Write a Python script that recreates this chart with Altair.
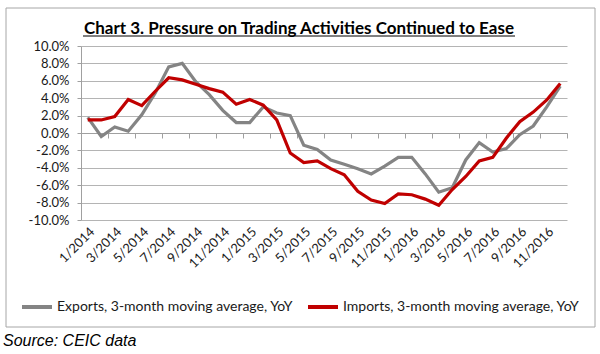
import altair as alt
import pandas as pd

months = ["1/2014", "2/2014", "3/2014", "4/2014", "5/2014", "6/2014", "7/2014", "8/2014",
          "9/2014", "10/2014", "11/2014", "12/2014", "1/2015", "2/2015", "3/2015", "4/2015",
          "5/2015", "6/2015", "7/2015", "8/2015", "9/2015", "10/2015", "11/2015", "12/2015",
          "1/2016", "2/2016", "3/2016", "4/2016", "5/2016", "6/2016", "7/2016", "8/2016",
          "9/2016", "10/2016", "11/2016", "12/2016"]

exports = [1.8, -0.4, 0.7, 0.2, 2.1, 4.6, 7.6, 8.0, 5.9, 4.4, 2.6, 1.2,
           1.2, 3.0, 2.3, 2.0, -1.4, -1.9, -3.1, -3.6, -4.1, -4.7, -3.8, -2.8,
           -2.8, -4.7, -6.8, -6.3, -3.1, -1.1, -2.2, -1.8, -0.2, 0.8, 3.0, 5.4]

imports = [1.5, 1.5, 1.9, 3.85, 3.15, 4.8, 6.35, 6.1, 5.6, 5.1, 4.7, 3.3,
           3.85, 3.2, 1.5, -2.3, -3.4, -3.2, -4.1, -4.8, -6.7, -7.7, -8.1, -7.0,
           -7.1, -7.6, -8.3, -6.5, -5.0, -3.2, -2.8, -0.6, 1.3, 2.4, 3.8, 5.7]

series_names = ["Exports, 3-month moving average, YoY",
                "Imports, 3-month moving average, YoY"]
series_colors = ["#848484", "#C00000"]

title_text = "Chart 3. Pressure on Trading Activities Continued to Ease"
source_text = "Source: CEIC data"

rows = []
for i, m in enumerate(months):
    rows.append({"idx": i, "month": m, "series": series_names[0], "value": exports[i]})
    rows.append({"idx": i, "month": m, "series": series_names[1], "value": imports[i]})
df = pd.DataFrame(rows)

n = len(months)
FONT = "Lato"
label_array = "[" + ",".join("'" + m + "'" for m in months) + "]"

xscale = alt.Scale(domain=[-0.5, n - 0.5], nice=False, zero=False)
yscale = alt.Scale(domain=[-10, 10], nice=False)

yaxis = alt.Axis(
    orient="left",
    values=list(range(-10, 11, 2)),
    labelExpr="replace(format(datum.value, '.1f'), '\u2212', '-') + '%'",
    title=None, grid=True, gridColor="#B4B4B4", gridWidth=1,
    domain=True, domainColor="#A0A0A0", ticks=True, tickColor="#A0A0A0", tickSize=4,
    labelFont=FONT, labelFontSize=13, labelColor="#1a1a1a", labelPadding=8,
)

label_axis = alt.Axis(
    orient="bottom",
    values=list(range(0, n, 2)),
    labelExpr=label_array + "[datum.value]",
    labelAngle=-45, labelAlign="right", labelBaseline="top",
    labelFont=FONT, labelFontSize=13, labelColor="#1a1a1a", labelPadding=5,
    labelOverlap=False, labelFlush=False,
    ticks=False, domain=False, grid=False, title=None,
)

tick_axis = alt.Axis(
    orient="bottom",
    values=[k + 1.5 for k in range(0, n, 2)],
    labels=False, ticks=True, tickSize=5, tickColor="#A0A0A0",
    domain=True, domainColor="#A0A0A0", grid=False, title=None,
    offset=-87,
)

lines = alt.Chart(df).mark_line(strokeWidth=3.2).encode(
    x=alt.X("idx:Q", scale=xscale, axis=label_axis),
    y=alt.Y("value:Q", scale=yscale, axis=yaxis),
    color=alt.Color(
        "series:N",
        scale=alt.Scale(domain=series_names, range=series_colors),
        legend=alt.Legend(
            orient="none", legendX=-61, legendY=244, direction="horizontal",
            title=None, symbolType="stroke", symbolSize=900, symbolStrokeWidth=4,
            labelFont=FONT, labelFontSize=14, labelColor="#1a1a1a", labelLimit=0,
            labelOffset=3, columnPadding=6,
        ),
    ),
    detail="series:N",
)

ticks_layer = alt.Chart(df).mark_line(opacity=0).encode(
    x=alt.X("idx:Q", scale=xscale, axis=tick_axis),
    y=alt.Y("value:Q", scale=yscale, axis=yaxis),
    detail="series:N",
)

one = pd.DataFrame({"t": [title_text], "s": [source_text]})

border = alt.Chart(one).mark_rect(fill=None, stroke="#A6A6A6", strokeWidth=1).encode(
    x=alt.value(-75), x2=alt.value(514), y=alt.value(-38), y2=alt.value(281)
)

title_mark = alt.Chart(one).mark_text(
    font=FONT, fontSize=17, fontWeight="bold", align="center", baseline="alphabetic",
    color="#000000",
).encode(x=alt.value(218), y=alt.value(-12), text="t:N")

underline = alt.Chart(one).mark_rule(color="#000000", strokeWidth=1).encode(
    x=alt.value(2), x2=alt.value(434), y=alt.value(-10)
)

source_mark = alt.Chart(one).mark_text(
    font="Liberation Sans", fontSize=16, fontStyle="italic", align="left",
    baseline="middle", color="#000000",
).encode(x=alt.value(-78), y=alt.value(295), text="s:N")

chart = alt.layer(
    border, ticks_layer, lines, title_mark, underline, source_mark
).resolve_axis(x="independent").properties(
    width=486, height=174,
    autosize=alt.AutoSizeParams(type="none"),
    padding={"left": 81, "top": 46, "right": 33, "bottom": 134},
    background="#FFFFFF",
).configure_view(stroke=None)

chart.save("out.html", embed_options={"renderer": "svg", "actions": False})
